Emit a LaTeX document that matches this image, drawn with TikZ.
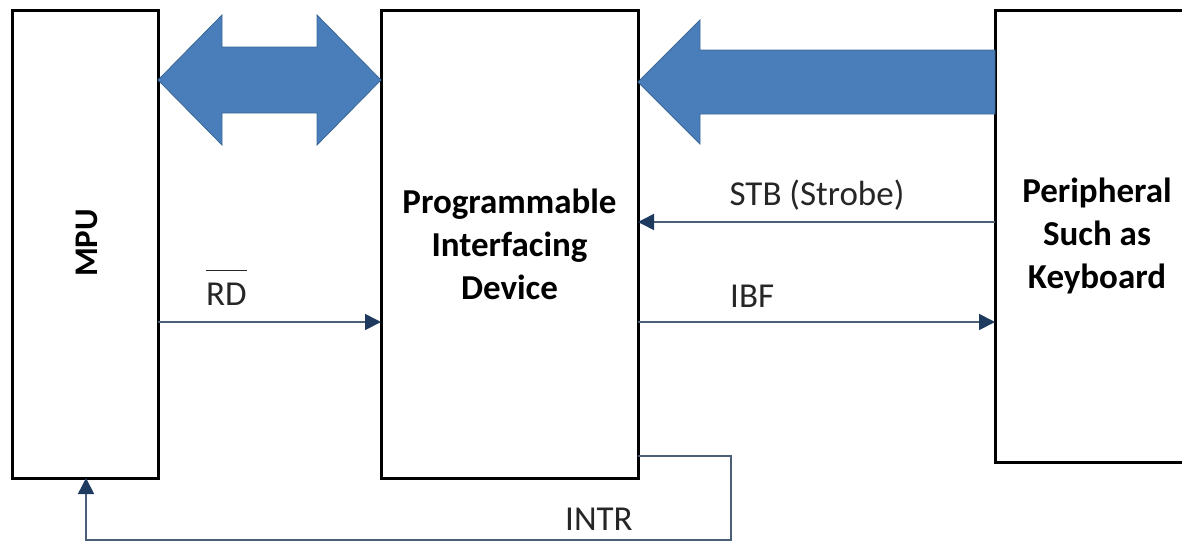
\documentclass[tikz,border=0pt]{standalone}
\usepackage{fontspec}
\setmainfont{Carlito}
\usetikzlibrary{arrows.meta,calc}
\definecolor{bfill}{HTML}{4A7EBB}
\definecolor{bedge}{HTML}{3A6896}
\definecolor{sigc}{HTML}{4B5F78}
\definecolor{tipc}{HTML}{1F3A5F}
\newcommand\myoverline[1]{\setbox0\hbox{#1}\rlap{\raisebox{34pt}{\rule{\wd0}{1.5pt}}}\box0}
\begin{document}
\begin{tikzpicture}[x=1pt,y=-1pt,
  blockbox/.style={draw=black,line width=3pt,fill=white,inner sep=0pt,outer sep=0pt,
    font=\fontsize{35}{43}\selectfont\bfseries,align=center},
  blockarrow/.style={fill=bfill,draw=bedge,line width=0.8pt,line join=miter},
  sig/.style={draw=sigc,line width=1.7pt,-{Triangle[length=16pt,width=16pt,color=tipc]}},
  lab/.style={font=\fontsize{35}{42}\selectfont,text=black!85,inner sep=0pt}]
\useasboundingbox (0,0) rectangle (1182,542);
\clip (0,0) rectangle (1182,542);
\node[blockbox,minimum width=146pt,minimum height=468pt] (mpu) at (85,244) {};
\node[font=\fontsize{33}{40}\selectfont\bfseries,rotate=90,inner sep=0pt] (mputext) at (87,243) {MPU};
\node[blockbox,minimum width=257pt,minimum height=468pt] (pid) at (509.5,244)
  {Programmable\\Interfacing\\Device};
\node[blockbox,minimum width=204pt,minimum height=452pt] (per) at (1097,236)
  {Peripheral\\Such as\\Keyboard};
% double block arrow MPU <-> PID
\coordinate (dl) at (mpu.east |- 0,80);
\coordinate (dr) at (pid.west |- 0,80);
\filldraw[blockarrow] (dl) -- ++(64,-65) -- ++(0,32) -- ($(dr)+(-64,-33)$) -- ++(0,-32) -- (dr)
  -- ++(-64,65) -- ++(0,-32) -- ($(dl)+(64,33)$) -- ++(0,32) -- cycle;
% block arrow Peripheral -> PID
\coordinate (pt) at (pid.east |- 0,82);
\filldraw[blockarrow] (pt) -- ++(62,-62) -- ++(0,30) -- (per.west |- 0,50) -- (per.west |- 0,114)
  -- ($(pt)+(62,32)$) -- ++(0,30) -- cycle;
% signals
\draw[sig] (per.west |- 0,222) -- (pid.east |- 0,222);
\node[lab,anchor=base] (stb) at (817,205) {STB (Strobe)};
\draw[sig] (pid.east |- 0,322) -- (per.west |- 0,322);
\node[lab,anchor=base west] (ibf) at (730,307) {IBF};
\draw[sig] (mpu.east |- 0,322) -- (pid.west |- 0,322);
\node[lab,anchor=base west] (rd) at (206,305) {\myoverline{RD}};
\coordinate (c1) at (731,456);
\coordinate (c2) at (731,540);
\draw[sig] (pid.east |- 0,456) -- (c1) -- (c2) -| ($(mpu.south west)!0.507!(mpu.south east)$);
\node[lab,anchor=base west] (intr) at (565,530) {INTR};
\end{tikzpicture}
\end{document}
